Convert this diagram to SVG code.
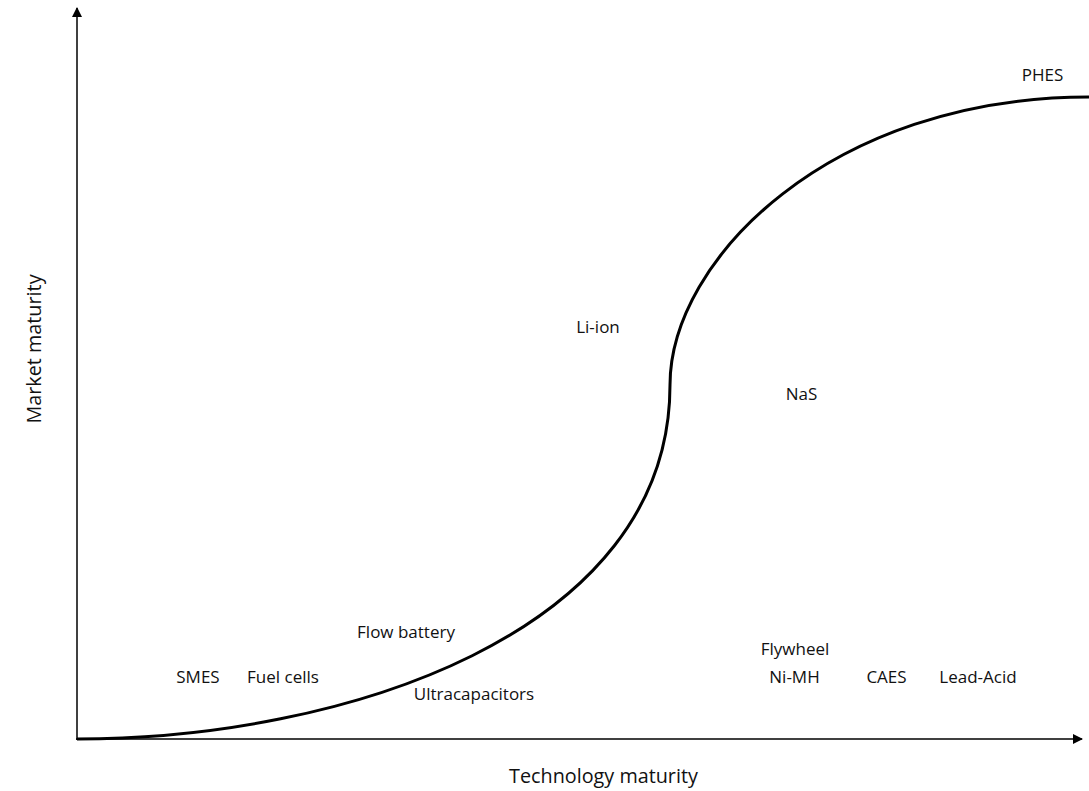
<svg xmlns="http://www.w3.org/2000/svg" width="1089" height="791" viewBox="0 0 1089 791">
  <defs>
    <marker id="arrow" viewBox="0 0 10 10" refX="9" refY="5" markerWidth="10" markerHeight="10" markerUnits="userSpaceOnUse" orient="auto">
      <path d="M0,0 L10,5 L0,10 z" fill="#000"/>
    </marker>
    <style>
      .axis { stroke: #000; stroke-width: 1.5; fill: none; }
      .curve { stroke: #000; stroke-width: 3; fill: none; }
      .label { font-family: "Open Sans", Lato, "Liberation Sans", sans-serif; font-size: 17px; fill: #111; text-anchor: middle; }
      .title { font-family: "Open Sans", Lato, "Liberation Sans", sans-serif; font-size: 19.8px; fill: #111; text-anchor: middle; }
    </style>
  </defs>
  <rect width="1089" height="791" fill="#fff"/>

  <!-- axes and S-curve -->
  <g id="connectors">
    <line class="axis" x1="77" y1="740" x2="77" y2="8" marker-end="url(#arrow)"/>
    <line class="axis" x1="76" y1="739" x2="1082" y2="739" marker-end="url(#arrow)"/>
    <path class="curve" d="M77,739 C340,739 670,635 670,385 C670,260 830,97 1089,97"/>
  </g>

  <!-- axis titles -->
  <g id="x-title"><text class="title" x="603.5" y="783">Technology maturity</text></g>
  <g id="y-title"><text class="title" transform="translate(41,349) rotate(-90)">Market maturity</text></g>

  <!-- technologies -->
  <g id="smes"><text class="label" x="198" y="683">SMES</text></g>
  <g id="fuel-cells"><text class="label" x="283" y="683">Fuel cells</text></g>
  <g id="flow-battery"><text class="label" x="406" y="638">Flow battery</text></g>
  <g id="ultracapacitors"><text class="label" x="474" y="700">Ultracapacitors</text></g>
  <g id="flywheel"><text class="label" x="795" y="655">Flywheel</text></g>
  <g id="ni-mh"><text class="label" x="794.5" y="683">Ni-MH</text></g>
  <g id="caes"><text class="label" x="886.5" y="683">CAES</text></g>
  <g id="lead-acid"><text class="label" x="978" y="683">Lead-Acid</text></g>
  <g id="li-ion"><text class="label" x="598" y="333">Li-ion</text></g>
  <g id="nas"><text class="label" x="801.5" y="400">NaS</text></g>
  <g id="phes"><text class="label" x="1042.5" y="81">PHES</text></g>
</svg>
